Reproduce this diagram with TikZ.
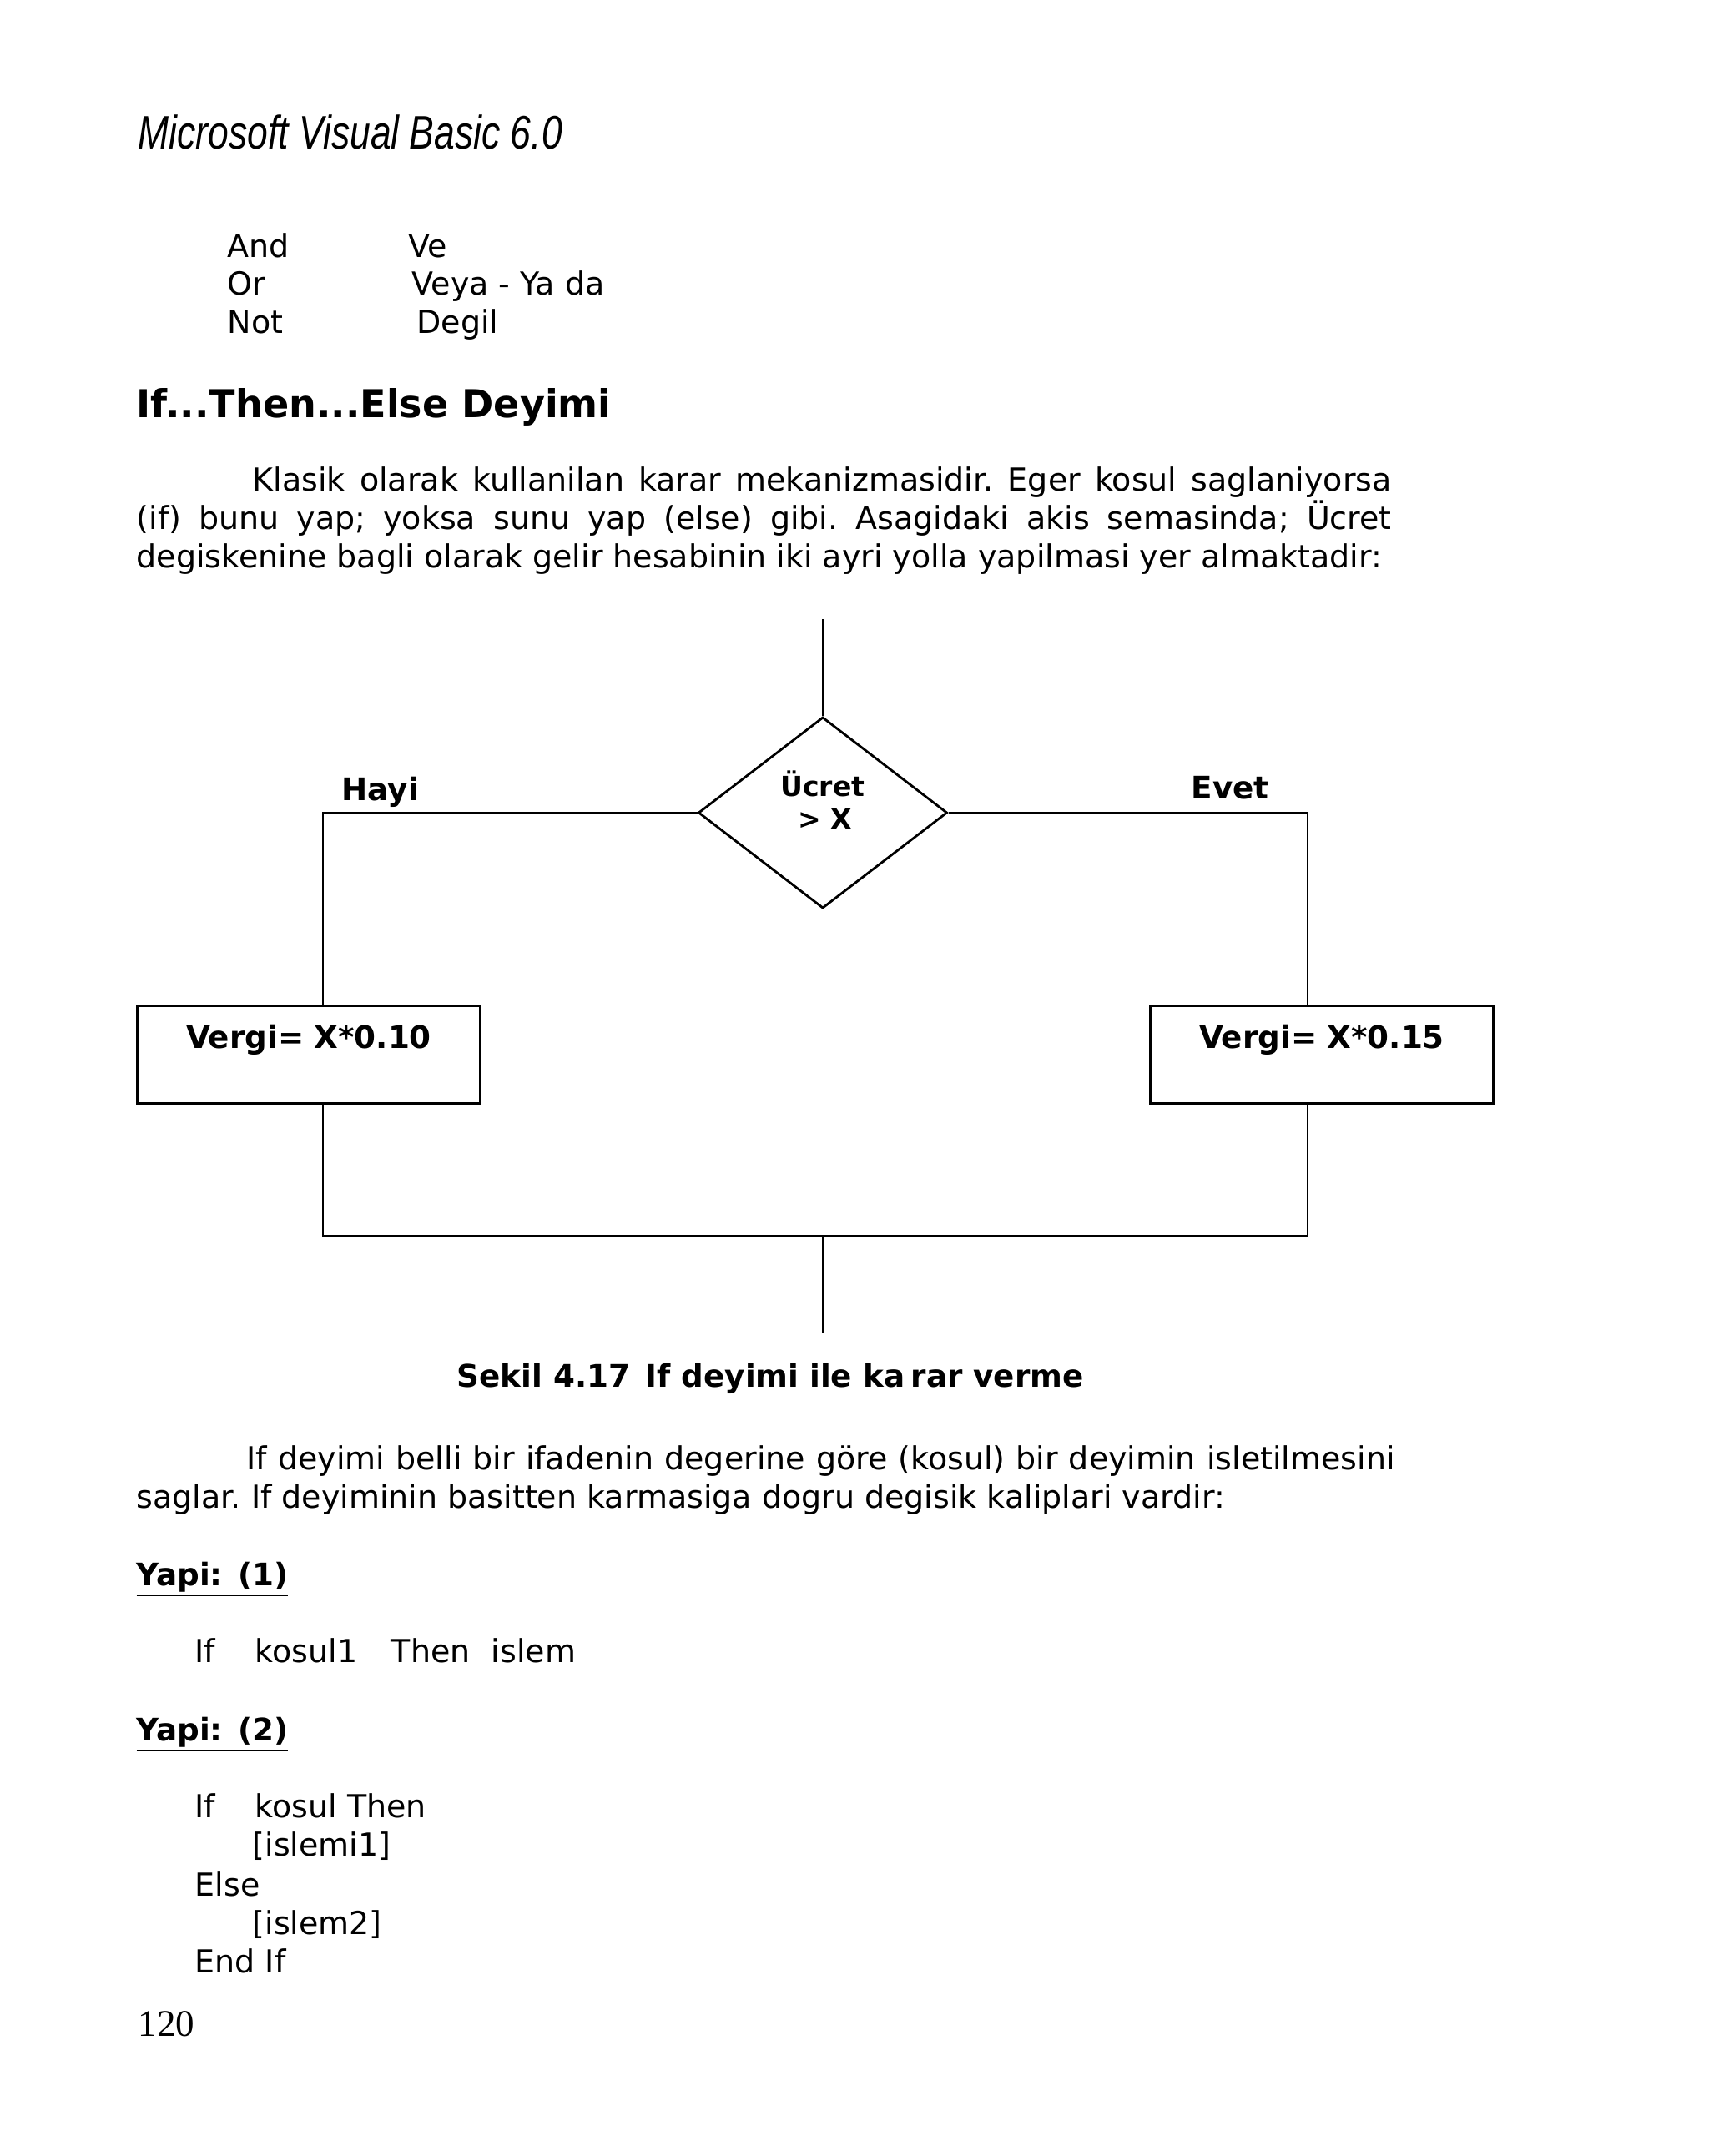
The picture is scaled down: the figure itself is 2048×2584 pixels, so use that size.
\documentclass[tikz,border=0pt]{standalone}
\usepackage{fontspec}
\setmainfont{DejaVu Sans}
\newfontfamily\headfont[FakeStretch=0.79]{Liberation Sans}
\newfontfamily\pagefont{Liberation Serif}
\usetikzlibrary{shapes.geometric}

\newcommand\bodysize{\fontsize{10.8pt}{13pt}\selectfont}
\newcommand\boldsize{\fontsize{10.6pt}{13pt}\selectfont\bfseries}
\newlength\linew
\setlength\linew{15.03cm}
\frenchspacing

\tikzset{
  every node/.style={inner sep=0},
  txt/.style={anchor=base west,font=\bodysize},
  btxt/.style={anchor=base west,font=\boldsize},
  flow/.style={line width=0.8pt},
  decision/.style={diamond,draw,flow,minimum width=2.98cm,minimum height=2.29cm},
  procbox/.style={rectangle,draw,flow,anchor=north,text width=4.1cm,align=center,
    text height=0.51cm,text depth=0.66cm,font=\boldsize},
  condtext/.style={anchor=base,font=\fontsize{9.4pt}{11pt}\selectfont\bfseries},
}

\begin{document}
\begin{tikzpicture}[x=0.01cm,y=-0.01cm]
  \fill[white] (0,0) rectangle (2048,2584);
  \useasboundingbox (0,0) rectangle (2048,2584);

  % page header
  \node[anchor=base west,font=\headfont\itshape\fontsize{16pt}{19pt}\selectfont]
    (header) at (165,178) {Microsoft Visual Basic 6.0};

  % operators
  \foreach \op/\tr/\tx/\y in {And/Ve/489/308, Or/Veya - Ya da/493/353, Not/Degil/499/399}{
    \node[txt] (op-\op) at (272,\y) {\op};
    \node[txt] (tr-\op) at (\tx,\y) {\tr};
  }

  \node[anchor=base west,font=\fontsize{13.1pt}{16pt}\selectfont\bfseries]
    (title) at (163,500) {If...Then...Else Deyimi};

  \node[txt] (par1a) at (163,588) {\makebox[\linew][s]{\hspace*{1.39cm}Klasik olarak kullanilan karar mekanizmasidir. Eger kosul saglaniyorsa}};
  \node[txt] (par1b) at (163,634) {\makebox[\linew][s]{(if) bunu yap; yoksa sunu yap (else) gibi. Asagidaki akis semasinda; Ücret}};
  \node[txt] (par1c) at (163,680) {degiskenine bagli olarak gelir hesabinin iki ayri yolla yapilmasi yer almaktadir:};

  % flow chart
  \coordinate (top) at (986,742);
  \coordinate (lcol) at (387,1481);
  \coordinate (rcol) at (1567,1481);
  \coordinate (bot) at (986,1598);
  \node[decision] (dec) at (986,974) {};
  \node[condtext] (cond1) at (986,954) {Ücret};
  \node[condtext] (cond2) at (989,993) {> X};
  \node[procbox] (lbox) at (370,1204) {Vergi= X*0.10};
  \node[procbox] (rbox) at (1584,1204) {Vergi= X*0.15};
  \node[btxt] (hayi) at (409,959) {Hayi};
  \node[btxt] (evet) at (1427,957) {Evet};

  \draw[flow] (top) -- (dec.north);
  \draw[flow] (dec.west) -| (lbox.north -| lcol);
  \draw[flow] (dec.east) -| (rbox.north -| rcol);
  \draw[flow] (lbox.south -| lcol) -- (lcol) -- (rcol) -- (rbox.south -| rcol);
  \draw[flow] (lcol -| dec) -- (bot);

  \node[btxt] (caption) at (547,1662) {Sekil 4.17\hspace{0.15em} If deyimi ile ka\hspace{0.2em}rar verme};

  \node[txt] (par2a) at (163,1761) {\makebox[15.07cm][s]{\hspace*{1.32cm}If deyimi belli bir ifadenin degerine göre (kosul) bir deyimin isletilmesini}};
  \node[txt] (par2b) at (163,1807) {saglar. If deyiminin basitten karmasiga dogru degisik kaliplari vardir:};

  % syntax
  \node[btxt] (yapi1) at (163,1900) {\underline{Yapi:\hspace{0.5em}(1)}};
  \node[txt] (code1) at (233,1992) {\makebox[0.72cm][l]{If}\makebox[1.63cm][l]{kosul1}\makebox[1.2cm][l]{Then}islem};
  \node[btxt] (yapi2) at (163,2086) {\underline{Yapi:\hspace{0.5em}(2)}};
  \node[txt] (code2a) at (233,2178) {\makebox[0.72cm][l]{If}kosul Then};
  \node[txt] (code2b) at (302,2224) {[islemi1]};
  \node[txt] (code2c) at (233,2272) {Else};
  \node[txt] (code2d) at (302,2318) {[islem2]};
  \node[txt] (code2e) at (233,2364) {End If};

  \node[anchor=base west,font=\pagefont\fontsize{12.8pt}{15pt}\selectfont] (pnum) at (165,2440) {120};
\end{tikzpicture}
\end{document}
